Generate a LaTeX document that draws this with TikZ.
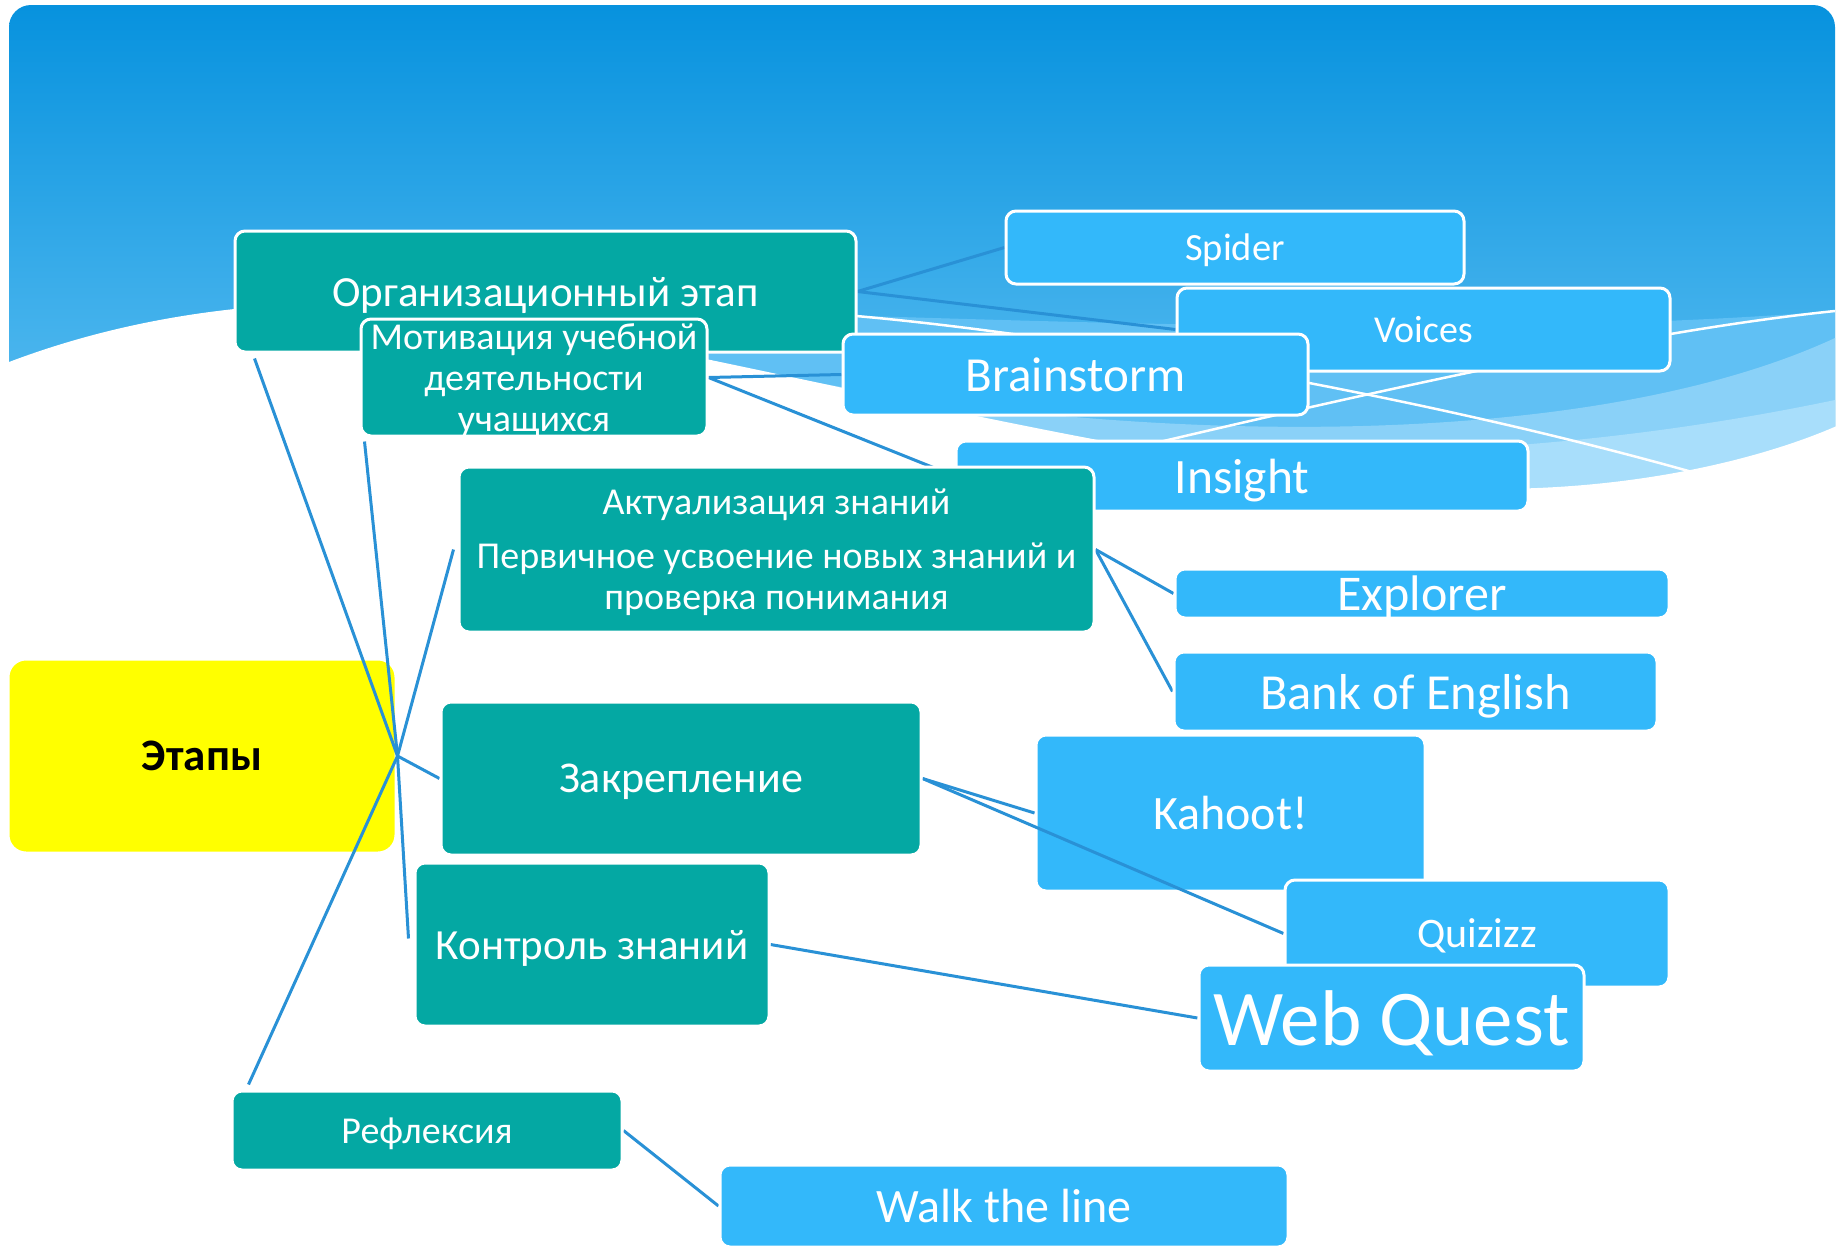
\documentclass[tikz,border=0pt]{standalone}
\usepackage{fontspec}
\setmainfont{Carlito}

\definecolor{stagegreen}{RGB}{4,168,163}
\definecolor{stageyellow}{RGB}{255,255,0}
\definecolor{toolblue}{RGB}{51,184,250}
\definecolor{linkblue}{RGB}{41,145,214}
\definecolor{skytop}{RGB}{7,146,222}
\definecolor{skylow}{RGB}{110,200,246}
\definecolor{skymid}{RGB}{96,192,244}
\definecolor{skylight}{RGB}{138,209,248}
\definecolor{skypale}{RGB}{168,222,251}
\newcommand\fsz[2]{\fontsize{#1}{#2}\selectfont}

\pgfdeclarelayer{back}
\pgfdeclarelayer{under}
\pgfdeclarelayer{links}
\pgfsetlayers{back,under,links,main}

\tikzset{
  stage/.style = {rectangle, rounded corners=10pt, fill=stagegreen, draw=white,
    line width=3pt, text=white, inner sep=0pt, align=center, text depth=0pt},
  tool/.style = {stage, fill=toolblue},
  link/.style = {draw=linkblue, line width=3pt},
  wave/.style = {draw=white, line width=2.5pt}
}

\begin{document}
\begin{tikzpicture}[x=1pt, y=-1pt]
  \useasboundingbox (0,0) rectangle (1839,1245);

  % sky and waves
  \begin{pgfonlayer}{back}
    \fill[white] (0,0) rectangle (1839,1245);
    \shade[top color=skytop, bottom color=skylow, rounded corners=22pt] (9,5) rectangle (1835,560);
    \fill[skymid] (600,310) .. controls (900,312) and (1400,345) .. (1835,311) -- (1835,700) -- (600,700) -- cycle;
    \fill[skylight] (650,345) .. controls (1000,440) and (1550,470) .. (1835,338) -- (1835,700) -- (650,700) -- cycle;
    \fill[skypale] (980,425) .. controls (1200,460) and (1500,470) .. (1835,400) -- (1835,700) -- (980,700) -- cycle;
    \fill[white] (0,365) -- (9,362) .. controls (120,320) and (230,305) .. (330,303)
      .. controls (550,300) and (1100,470) .. (1450,488)
      .. controls (1620,495) and (1760,460) .. (1839,425) -- (1839,1245) -- (0,1245) -- cycle;
    \draw[wave] (856,316) .. controls (1050,333) and (1400,390) .. (1692,472);
    \draw[wave] (1100,456) .. controls (1400,385) and (1650,330) .. (1835,311);
  \end{pgfonlayer}

  \begin{pgfonlayer}{under}
    \node[stage, fill=stageyellow, rounded corners=18pt, minimum width=388pt, minimum height=194pt,
      text=black, font=\bfseries\fsz{45}{54}] (etapy) at (202,756) {Этапы};
    \node[tool, minimum width=572pt, minimum height=70pt, font=\fsz{49.5}{56}] (insight) at (1242,476) {Insight};
    \node[tool, minimum width=389pt, minimum height=156pt, font=\fsz{48}{56}] (kahoot) at (1230.5,813) {Kahoot!};
  \end{pgfonlayer}

  \node[stage, minimum width=621pt, minimum height=121pt, font=\fsz{43}{50}] (org) at (545.5,291.5) {Организационный этап};
  \node[tool, minimum width=458pt, minimum height=73pt, font=\fsz{38.5}{46}] (spider) at (1235,247.5) {Spider};
  \node[tool, minimum width=493pt, minimum height=83pt, font=\fsz{38}{46}] (voices) at (1423.5,329.5) {Voices};
  \node[tool, minimum width=465pt, minimum height=81pt, font=\fsz{49}{56}] (brain) at (1075.5,374.5) {Brainstorm};
  \node[stage, minimum width=346pt, minimum height=117pt, font=\fsz{38}{41}] (motiv) at (534,377.5)
    {Мотивация учебной\\деятельности\\учащихся};
  \node[stage, minimum width=635pt, minimum height=165pt, font=\fsz{38}{41}] (aktual) at (776.5,549.5)
    {Актуализация знаний\\[13pt]Первичное усвоение новых знаний и\\проверка понимания};
  \node[tool, minimum width=494pt, minimum height=49pt, font=\fsz{50}{56}] (explorer) at (1422,593.5) {Explorer};
  \node[tool, minimum width=483pt, minimum height=79pt, font=\fsz{50.5}{56}] (bank) at (1415.5,691.5) {Bank of English};
  \node[stage, minimum width=480pt, minimum height=153pt, font=\fsz{44}{50}] (zakrep) at (681,778.5) {Закрепление};
  \node[tool, minimum width=384pt, minimum height=107pt, font=\fsz{42}{50}] (quizizz) at (1477,933.5) {Quizizz};
  \node[tool, minimum width=385pt, minimum height=106pt, font=\fsz{79}{90}] (webquest) at (1391.5,1018) {Web Quest};
  \node[stage, minimum width=354pt, minimum height=163pt, font=\fsz{43}{50}] (kontrol) at (592,944.5) {Контроль знаний};
  \node[stage, minimum width=390pt, minimum height=79pt, font=\fsz{38}{46}] (reflex) at (427,1130.5) {Рефлексия};
  \node[tool, minimum width=568pt, minimum height=82pt, font=\fsz{48}{56}] (walk) at (1004,1206) {Walk the line};

  % connectors
  \begin{pgfonlayer}{links}
    \draw[link] (etapy.east) -- ([xshift=21pt,yshift=-5pt]org.south west);
    \draw[link] (etapy.east) -- ([xshift=5pt,yshift=-4pt]motiv.south west);
    \draw[link] (etapy.east) -- ([xshift=-4pt]aktual.west);
    \draw[link] (etapy.east) -- (zakrep.west);
    \draw[link] (etapy.east) -- ([xshift=-5pt,yshift=6pt]kontrol.west);
    \draw[link] (etapy.east) -- ([xshift=18pt,yshift=5pt]reflex.north west);
    \draw[link] (org.east) -- (spider.west);
    \draw[link] (org.east) -- (voices.west);
    \draw[link] (motiv.east) -- (brain.west);
    \draw[link] (motiv.east) -- (insight.west);
    \draw[link] (aktual.east) -- (explorer.west);
    \draw[link] (aktual.east) -- (bank.west);
    \draw[link] (zakrep.east) -- (kahoot.west);
    \draw[link] (zakrep.east) -- (quizizz.west);
    \draw[link] (kontrol.east) -- (webquest.west);
    \draw[link] (reflex.east) -- (walk.west);
  \end{pgfonlayer}
\end{tikzpicture}
\end{document}
